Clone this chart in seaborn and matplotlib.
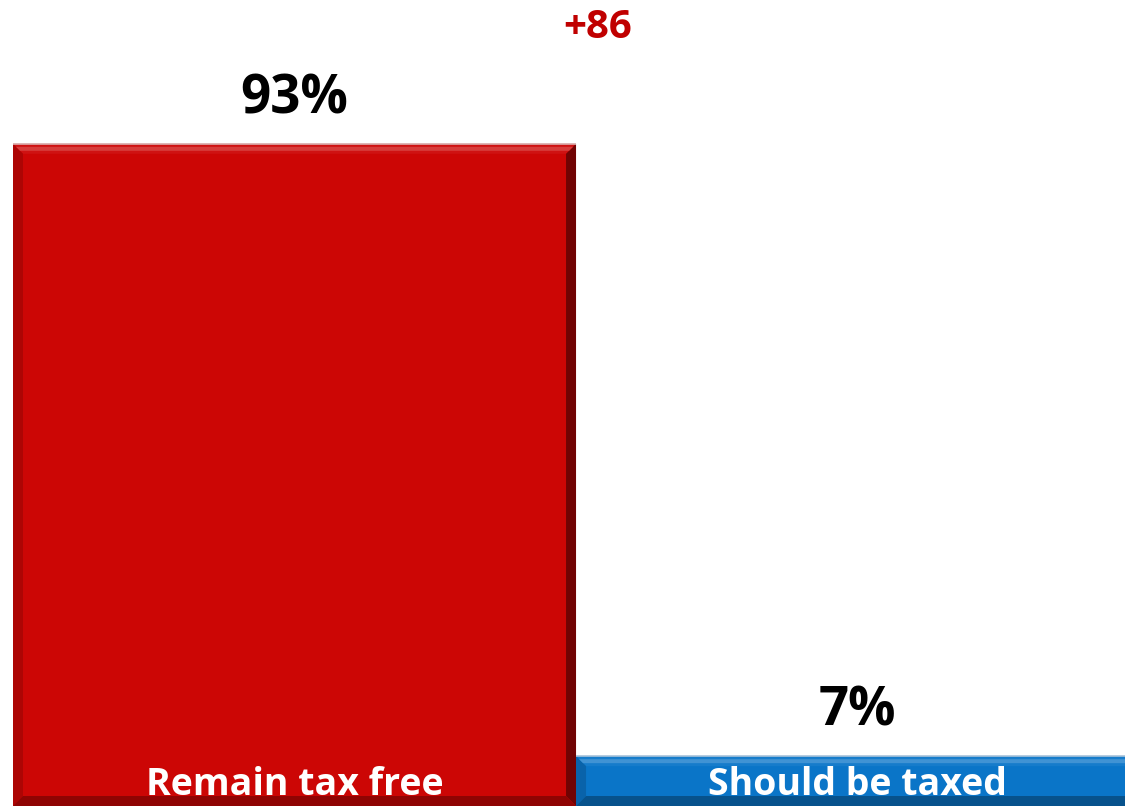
import matplotlib
matplotlib.use("Agg")
import matplotlib.pyplot as plt
from matplotlib.patches import Polygon
import seaborn as sns
import pandas as pd
from matplotlib.colors import to_rgb

categories = ["Remain tax free", "Should be taxed"]
values = [93, 7]
value_labels = ["93%", "7%"]
bar_colors = ["#CC0605", "#0A75C8"]

sns.set_theme(style="white")
plt.rcParams["font.family"] = ["Open Sans", "DejaVu Sans"]

df = pd.DataFrame({"category": categories, "value": values})

fig = plt.figure(figsize=(11.25, 8.06), dpi=100)
ax = fig.add_axes([13 / 1125, 0, 1 - 13 / 1125, 1])

sns.barplot(data=df, x="category", y="value", hue="category",
            palette=bar_colors, width=1.0, saturation=1, legend=False,
            edgecolor="none", linewidth=0, ax=ax)

ax.set_xlim(-0.5, 1.475)
ax.set_ylim(0, 113.2)
ax.axis("off")


def shade(color, f):
    r, g, b = to_rgb(color)
    if f >= 0:
        return (r + (1 - r) * f, g + (1 - g) * f, b + (1 - b) * f)
    return (r * (1 + f), g * (1 + f), b * (1 + f))


# bevelled edges on each bar, derived from the bar geometry
px_x = 1.0 / 563.0
px_y = 113.2 / 806.0
bev = 10
for patch, col in zip(ax.patches, bar_colors):
    x0, y0 = patch.get_x(), patch.get_y()
    x1, y1 = x0 + patch.get_width(), y0 + patch.get_height()
    bx, by = bev * px_x, min(bev * px_y, patch.get_height() / 3)
    ix0, ix1, iy0, iy1 = x0 + bx, x1 - bx, y0 + by, y1 - by
    ax.add_patch(Polygon([(x0, y1), (x1, y1), (ix1, iy1), (ix0, iy1)],
                         closed=True, fc=shade(col, 0.05), ec="none", zorder=3))
    ax.add_patch(Polygon([(x0 + 0.3 * bx, y1 - 0.3 * by), (x1 - 0.3 * bx, y1 - 0.3 * by),
                          (x1 - 0.7 * bx, y1 - 0.7 * by), (x0 + 0.7 * bx, y1 - 0.7 * by)],
                         closed=True, fc=shade(col, 0.22), ec="none", zorder=3.1))
    ax.add_patch(Polygon([(x0, y1), (ix0, iy1), (ix0, iy0), (x0, y0)],
                         closed=True, fc=shade(col, -0.15), ec="none", zorder=3))
    ax.add_patch(Polygon([(x1, y1), (ix1, iy1), (ix1, iy0), (x1, y0)],
                         closed=True, fc=shade(col, -0.45), ec="none", zorder=3))
    ax.add_patch(Polygon([(x0, y0), (ix0, iy0), (ix1, iy0), (x1, y0)],
                         closed=True, fc=shade(col, -0.3), ec="none", zorder=3))
    ax.plot([x0, x1], [y1, y1], color="#D9B0B0" if col == bar_colors[0] else "#A9C4DA",
            lw=1.2, zorder=4, solid_capstyle="butt")

# value labels above bars and category labels inside bars
for patch, lab, cat in zip(ax.patches, value_labels, categories):
    cx = patch.get_x() + patch.get_width() / 2
    top = patch.get_height()
    ax.annotate(lab, (cx, top), xytext=(0, 22), textcoords="offset points",
                ha="center", va="baseline", fontsize=38, fontweight="bold",
                color="black", zorder=5)
    ax.annotate(cat, (cx, 0), xytext=(0, 8), textcoords="offset points",
                ha="center", va="baseline", fontsize=27, fontweight="bold",
                color="white", zorder=5)

# difference between the two groups
diff = values[0] - values[1]
fig.text(598 / 1125, 1 - 38 / 806, f"+{diff}", ha="center", va="baseline",
         fontsize=29, fontweight="bold", color="#C00000")

fig.savefig("out.png", dpi=100)
